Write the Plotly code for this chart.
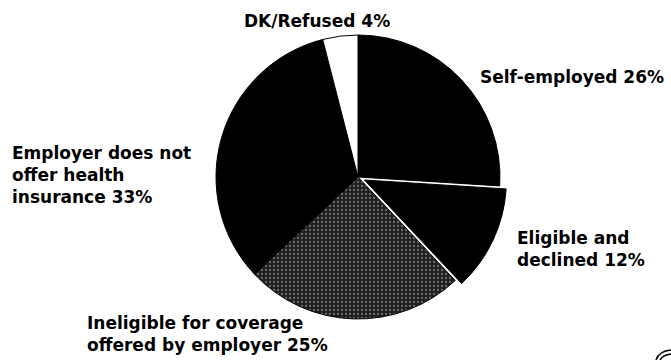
import plotly.graph_objects as go

# Reasons for being uninsured (share of respondents)
categories = [
    "Self-employed",
    "Eligible and declined",
    "Ineligible for coverage offered by employer",
    "Employer does not offer health insurance",
    "DK/Refused",
]
shares = [26, 12, 25, 33, 4]
label_texts = [
    "Self-employed 26%",
    "Eligible and<br>declined 12%",
    "Ineligible for coverage<br>offered by employer 25%",
    "Employer does not<br>offer health<br>insurance 33%",
    "DK/Refused 4%",
]

W, H = 671, 360
slice_colors = ["#000000", "#000000", "#1e1e1e", "#000000", "#ffffff"]
pulls = [0, 0.05, 0, 0, 0]

# pie placement in pixels
cx, cy, r = 358, 177, 142
half = r * (1 + max(pulls))

fig = go.Figure(
    go.Pie(
        labels=categories,
        values=shares,
        sort=False,
        direction="clockwise",
        rotation=0,
        pull=pulls,
        textinfo="none",
        hoverinfo="label+percent",
        showlegend=False,
        marker=dict(
            colors=slice_colors,
            line=dict(color="#000000", width=1),
            pattern=dict(
                shape=["", "", ".", "", ""],
                fgcolor="#6e6e6e",
                bgcolor=slice_colors,
                size=4,
                solidity=0.25,
            ),
        ),
        domain=dict(
            x=[(cx - half) / W, (cx + half) / W],
            y=[(H - cy - half) / H, (H - cy + half) / H],
        ),
    )
)

# label anchors: (left edge px, vertical centre px)
label_pos = [
    (478, 77),
    (515, 249),
    (85, 334),
    (10, 175),
    (242, 21),
]

for txt, (lx, ly) in zip(label_texts, label_pos):
    fig.add_annotation(
        text=txt,
        x=lx / W,
        y=1 - ly / H,
        xref="paper",
        yref="paper",
        xanchor="left",
        yanchor="middle",
        align="left",
        showarrow=False,
        font=dict(family="DejaVu Sans", size=17, color="#000000", weight="bold"),
    )

# small curved mark in the lower right corner
for off in (0, 4):
    x0, y0 = 656 + off, 360
    x1, y1 = 671, 350 + off
    fig.add_shape(
        type="path",
        xref="paper",
        yref="paper",
        path=f"M {x0 / W} {1 - y0 / H} Q {(x0 + 3) / W} {1 - (y1 + 1) / H} {x1 / W} {1 - y1 / H}",
        line=dict(color="#000000", width=1.5),
    )

fig.update_layout(
    width=W,
    height=H,
    margin=dict(l=0, r=0, t=0, b=0),
    paper_bgcolor="#ffffff",
    plot_bgcolor="#ffffff",
)

fig.write_html("out.html")
